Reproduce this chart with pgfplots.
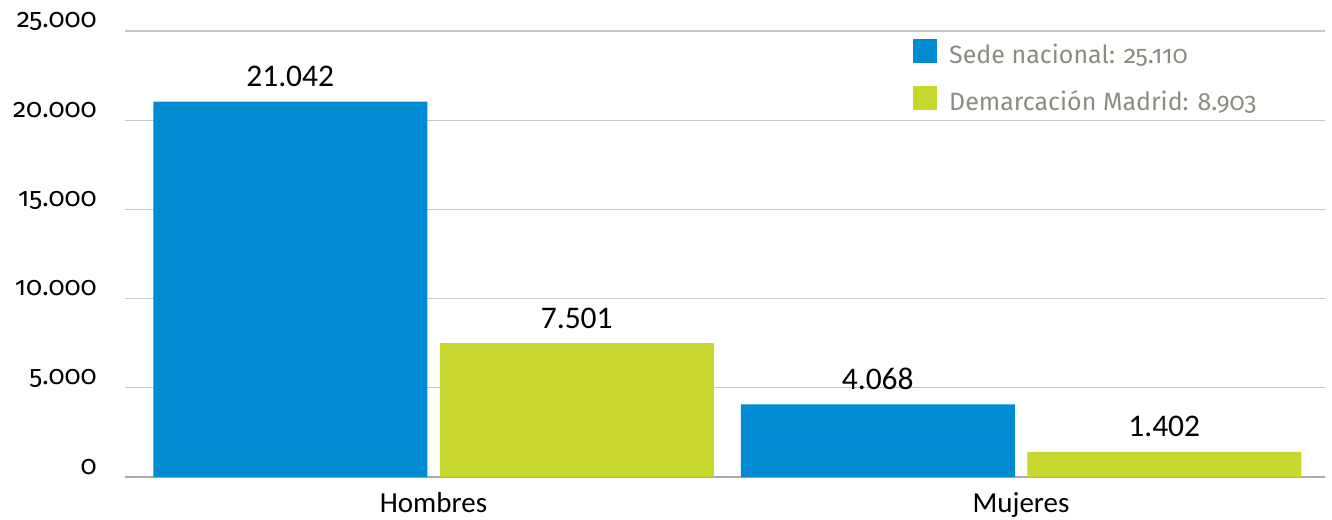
\documentclass[border=0pt]{standalone}
\usepackage{fontspec}
\setmainfont{Carlito}
\newfontfamily\tickfont[Numbers=OldStyle]{Fira Sans}
\usepackage{pgfplots}
\pgfplotsset{compat=1.18}
\definecolor{sede}{RGB}{0,139,210}
\definecolor{dem}{RGB}{200,214,48}
\definecolor{leggray}{RGB}{140,140,130}
\definecolor{gridgray}{RGB}{200,200,200}
\definecolor{axisgray}{RGB}{170,170,170}
\begin{document}
\begin{tikzpicture}[x=1pt,y=1pt]
\useasboundingbox (0,0) rectangle (1332,519);
\begin{axis}[
  at={(125pt,42pt)}, anchor=south west,
  scale only axis, width=1200pt, height=446pt,
  xmin=-0.5251, xmax=1.5174, ymin=0, ymax=25000,
  axis x line*=bottom, axis y line*=left,
  axis line style={-},
  y axis line style={draw=none},
  x axis line style={draw=axisgray, line width=2pt},
  ytick={0,5000,10000,15000,20000,25000},
  ymajorgrids, grid style={gridgray, line width=1.3pt},
  major tick length=0pt,
  scaled y ticks=false,
  yticklabel style={font=\tickfont\fontsize{26.5}{26.5}\selectfont, anchor=base east, inner sep=0pt, xshift=-28pt, yshift=3pt},
  xtick={0,1}, xticklabels={Hombres,Mujeres},
  xticklabel style={font=\fontsize{29}{29}\selectfont, anchor=base, inner sep=0pt, yshift=-35pt},
  ybar=12.5pt, bar width=274pt,
  nodes near coords,
  nodes near coords style={font=\fontsize{31.5}{31.5}\selectfont, anchor=base, inner sep=0pt, yshift=15pt, text=black},
  /pgf/number format/1000 sep={.},
  /pgf/number format/assume math mode=true,
  legend cell align=left,
  legend style={draw=none, fill=none, at={(0.6567,0.982)}, anchor=north west, inner sep=0pt,
    row sep=23pt, column sep=12pt, font=\tickfont\fontsize{25}{25}\selectfont,
    text=leggray, nodes={inner sep=0pt, text depth=0pt}, cells={anchor=base west}},
  legend image code/.code={\fill[#1] (0pt,0pt) rectangle (24pt,24pt);},
]
\addplot[fill=sede, draw=none] coordinates {(0,21042) (1,4068)};
\addlegendentry{Sede nacional: 25.110}
\addplot[fill=dem, draw=none] coordinates {(0,7501) (1,1402)};
\addlegendentry{Demarcación Madrid: 8.903}
\end{axis}
\end{tikzpicture}
\end{document}
